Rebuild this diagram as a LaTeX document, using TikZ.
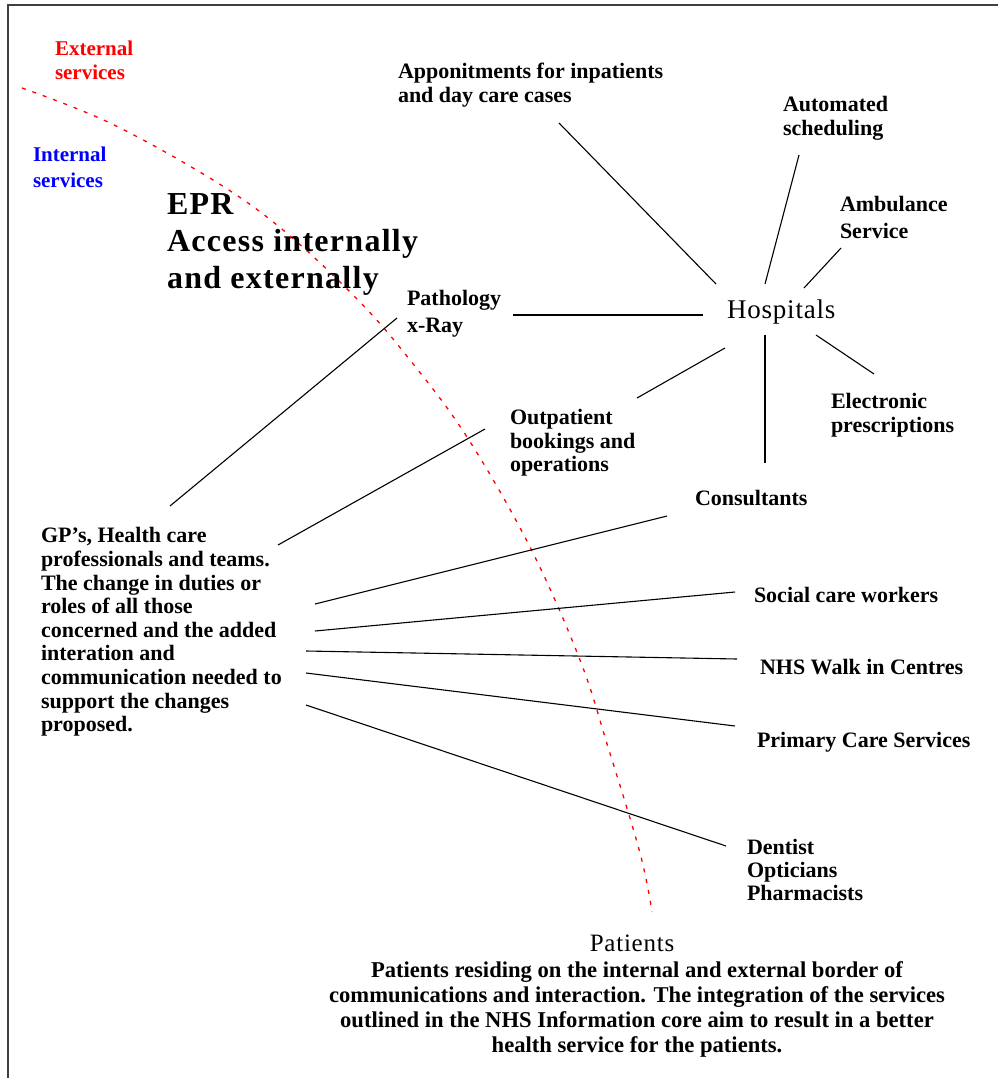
\documentclass[tikz,border=0pt]{standalone}
\usepackage{fontspec}
\setmainfont{Liberation Serif}
\newfontfamily\eprfont[LetterSpace=4]{Liberation Serif}
\newfontfamily\wideserif[LetterSpace=3]{Liberation Serif}
\begin{document}
\begin{tikzpicture}[x=1pt,y=-1pt,
  lbl/.style={font=\bfseries\fontsize{22}{24}\selectfont, align=left, anchor=west, inner sep=0pt, outer sep=0pt},
  link/.style={line width=1.1pt, black},
  border/.style={line width=2pt, black!75},
  divide/.style={red, line width=1.3pt, dash pattern=on 4pt off 7pt}]
\useasboundingbox (0,0) rectangle (998,1078);
\fill[white] (0,0) rectangle (998,1078);

% outer frame (left and top edges)
\draw[border] (8,1078) -- (8,5) -- (998,5);

% border between internal and external services
\draw[divide] plot[smooth, tension=0.6] coordinates {(22,88) (110,123) (213,180) (283,230) (358,300) (410,360) (467,437) (530,547) (580,660) (608,747) (640,853) (652,912)};

% labels
\node[lbl, text=red, font=\bfseries\fontsize{21}{24}\selectfont] (ext) at (55,60) {External\\services};
\node[lbl, text=blue, font=\bfseries\fontsize{21}{26}\selectfont] (int) at (33,167) {Internal\\services};
\node[lbl, font=\eprfont\bfseries\fontsize{32}{37}\selectfont] (epr) at (167,244) {EPR\\Access internally\\and externally};

\node[lbl] (appt) at (398,85) {Apponitments for inpatients\\and day care cases};
\node[lbl] (auto) at (783,118) {Automated\\scheduling};
\node[lbl, font=\bfseries\fontsize{22}{27}\selectfont] (amb) at (840,217) {Ambulance\\Service};
\node[lbl, font=\wideserif\fontsize{27}{30}\selectfont] (hosp) at (727,312) {Hospitals};
\node[lbl, font=\bfseries\fontsize{22}{27}\selectfont] (path) at (407,314) {Pathology\\x-Ray};
\node[lbl] (elec) at (831,415) {Electronic\\prescriptions};
\node[lbl, font=\bfseries\fontsize{22}{23.5}\selectfont] (outp) at (510,443) {Outpatient\\bookings and\\operations};
\node[lbl] (cons) at (695,498) {Consultants};
\node[lbl, font=\bfseries\fontsize{22}{23.6}\selectfont] (gp) at (41,632) {GP’s, Health care\\professionals and teams.\\The change in duties or\\roles of all those\\concerned and the added\\interation and\\communication needed to\\support the changes\\proposed.};
\node[lbl] (social) at (754,595) {Social care workers};
\node[lbl] (nhs) at (760,667) {NHS Walk in Centres};
\node[lbl] (prim) at (757,742) {Primary Care Services};
\node[lbl, font=\bfseries\fontsize{22}{23}\selectfont] (dent) at (747,870) {Dentist\\Opticians\\Pharmacists};

\node[inner sep=0pt, font=\wideserif\fontsize{25}{27}\selectfont] (pat) at (632,943) {Patients};
\node[inner sep=0pt, align=center, font=\bfseries\fontsize{22.6}{25}\selectfont] (note) at (637,1009)
  {Patients residing on the internal and external border of\\
   communications and interaction. The integration of the services\\
   outlined in the NHS Information core aim to result in a better\\
   health service for the patients.};

% connectors around Hospitals
\draw[link] ([shift={(161,38)}]appt.west) -- ([shift={(-11,-28)}]hosp.west);
\draw[link] ([shift={(16,37)}]auto.west) -- ([shift={(38,-28)}]hosp.west);
\draw[link] ([shift={(1,31)}]amb.west) -- ([shift={(77,-24)}]hosp.west);
\draw[link] ([shift={(106,1)}]path.west) -- ([shift={(-24,3)}]hosp.west);
\draw[link] ([shift={(89,23)}]hosp.west) -- ([shift={(43,-41)}]elec.west);
\draw[link] ([shift={(38,23)}]hosp.west) -- ([shift={(70,-35)}]cons.west);
\draw[link] ([shift={(-2,36)}]hosp.west) -- ([shift={(127,-45)}]outp.west);

% connectors from the GP group
\draw[link] ([shift={(129,-126)}]gp.west) -- ([shift={(-10,4)}]path.west);
\draw[link] ([shift={(237,-87)}]gp.west) -- ([shift={(-25,-14)}]outp.west);
\draw[link] ([shift={(274,-28)}]gp.west) -- ([shift={(-28,18)}]cons.west);
\draw[link] ([shift={(274,-1)}]gp.west) -- ([shift={(-19,-3)}]social.west);
\draw[link] ([shift={(265,19)}]gp.west) -- ([shift={(-23,-8)}]nhs.west);
\draw[link] ([shift={(265,41)}]gp.west) -- ([shift={(-22,-16)}]prim.west);
\draw[link] ([shift={(265,73)}]gp.west) -- ([shift={(-21,-24)}]dent.west);
\end{tikzpicture}
\end{document}
